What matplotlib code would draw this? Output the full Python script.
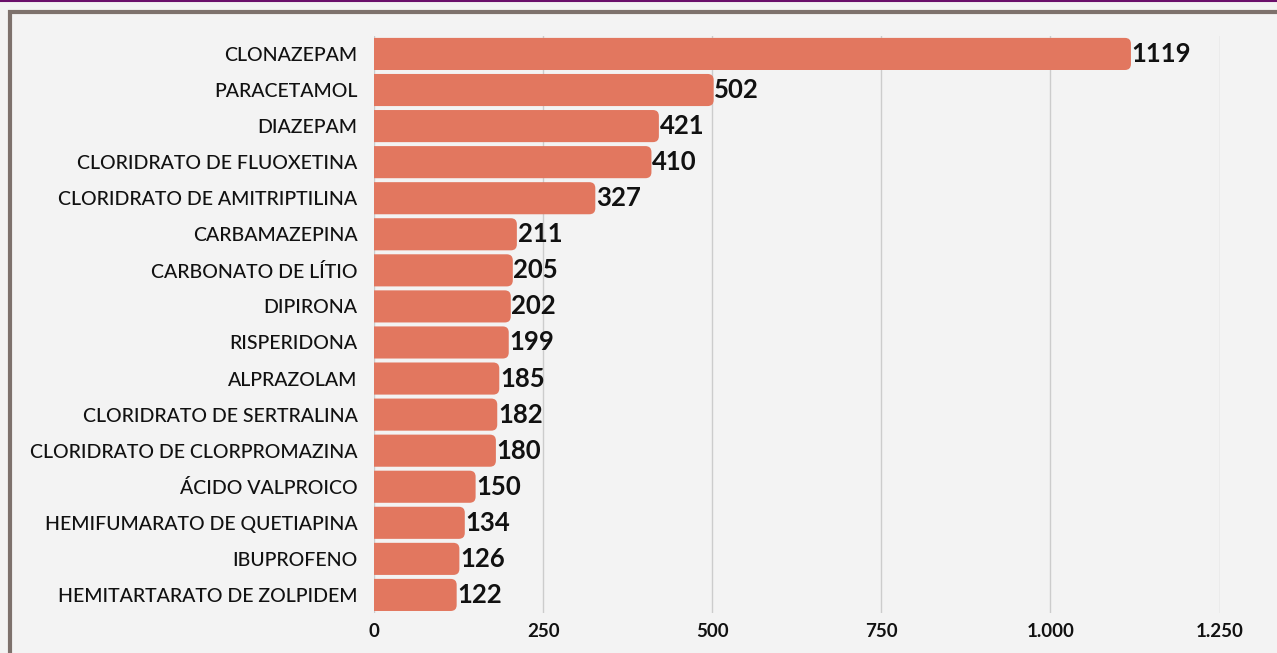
import matplotlib
matplotlib.use('Agg')
import matplotlib.pyplot as plt
from matplotlib.patches import FancyBboxPatch, Rectangle
from matplotlib.lines import Line2D
from matplotlib.ticker import FuncFormatter

plt.rcParams['font.family'] = ['Lato', 'DejaVu Sans']

# dados
medicamentos = ['CLONAZEPAM', 'PARACETAMOL', 'DIAZEPAM', 'CLORIDRATO DE FLUOXETINA',
                'CLORIDRATO DE AMITRIPTILINA', 'CARBAMAZEPINA', 'CARBONATO DE LÍTIO',
                'DIPIRONA', 'RISPERIDONA', 'ALPRAZOLAM', 'CLORIDRATO DE SERTRALINA',
                'CLORIDRATO DE CLORPROMAZINA', 'ÁCIDO VALPROICO', 'HEMIFUMARATO DE QUETIAPINA',
                'IBUPROFENO', 'HEMITARTARATO DE ZOLPIDEM']
quantidades = [1119, 502, 421, 410, 327, 211, 205, 202, 199, 185, 182, 180, 150, 134, 126, 122]
x_ticks = [0, 250, 500, 750, 1000, 1250]

bg = '#f3f3f3'
bar_color = '#e2775f'

fig = plt.figure(figsize=(12.77, 6.53), dpi=100, facecolor=bg)
ax = fig.add_axes([0.293, 0.0613, 0.662, 0.8837])
ax.set_facecolor(bg)

ax.set_xlim(0, 1250)
ax.set_ylim(len(medicamentos) - 0.5, -0.5)

# barras com ponta arredondada
W, H = fig.get_size_inches() * fig.dpi
pos = ax.get_position()
px_x = pos.width * W / 1250.0
px_y = pos.height * H / len(medicamentos)
r_px = 6
r_x = r_px / px_x
aspect = (r_px / px_y) / r_x
altura = 0.89
for i, v in enumerate(quantidades):
    p = FancyBboxPatch((-3 * r_x, i - altura / 2), v + 3 * r_x, altura,
                       boxstyle=f"round,pad=0,rounding_size={r_x}",
                       mutation_aspect=aspect, facecolor=bar_color,
                       edgecolor='none', zorder=3)
    ax.add_patch(p)
    ax.text(v + 1, i, str(v), va='center', ha='left', fontsize=18.5,
            fontweight='bold', color='#111111', zorder=4)

ax.set_yticks(range(len(medicamentos)))
ax.set_yticklabels(medicamentos, fontsize=14, color='#111111', fontweight='medium')
ax.set_xticks(x_ticks)
ax.xaxis.set_major_formatter(FuncFormatter(lambda x, p: f"{int(x):,}".replace(',', '.')))
for lbl in ax.get_xticklabels():
    lbl.set_fontsize(13.5)
    lbl.set_fontweight('bold')
ax.tick_params(axis='y', length=0, pad=12)
ax.tick_params(axis='x', length=0, pad=7, colors='#111111')
ax.grid(axis='x', color='#cccccc', linewidth=1, zorder=0)
ax.set_axisbelow(True)
for s in ax.spines.values():
    s.set_visible(False)

# moldura
fig.add_artist(Line2D([0, 1], [1 - 1 / H, 1 - 1 / H], transform=fig.transFigure,
                      color='#6a0f6a', linewidth=1.5))
fig.add_artist(Rectangle((10 / W, -0.1), 1.2, 1.1 - 12 / H, transform=fig.transFigure,
                         fill=False, edgecolor='#7d716c', linewidth=3))

fig.savefig('out.png', dpi=100, facecolor=bg)
